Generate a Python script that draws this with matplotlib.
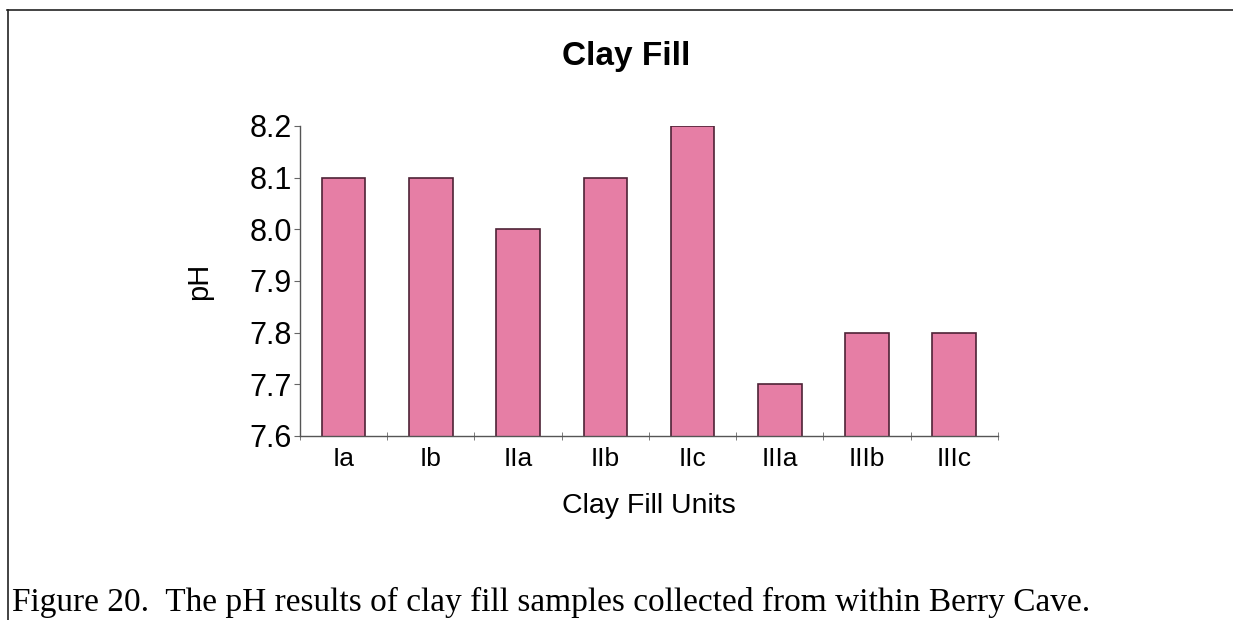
import numpy as np
import matplotlib
matplotlib.use("Agg")
import matplotlib.pyplot as plt
from matplotlib.lines import Line2D

units = ["Ia", "Ib", "IIa", "IIb", "IIc", "IIIa", "IIIb", "IIIc"]
ph = [8.1, 8.1, 8.0, 8.1, 8.2, 7.7, 7.8, 7.8]
yticks = [7.6, 7.7, 7.8, 7.9, 8.0, 8.1, 8.2]

plt.rcParams['font.family'] = ['Liberation Sans', 'DejaVu Sans']

fig = plt.figure(figsize=(12.33, 6.2), dpi=100)
ax = fig.add_axes([0.2433, 0.2968, 0.566, 0.5])

x = np.arange(len(units))
ax.bar(x, ph, width=0.5, color='#e67ea5', edgecolor='#4e2236', linewidth=1.2)

ax.set_xlim(-0.5, len(units) - 0.5)
ax.set_ylim(7.6, 8.2)
ax.set_yticks(yticks)
ax.set_yticklabels([f"{v:.1f}" for v in yticks], fontsize=22)
ax.set_xticks(x)
ax.set_xticklabels(units, fontsize=19)
ax.set_xticks(np.arange(len(units) + 1) - 0.5, minor=True)
ax.tick_params(axis='x', which='major', length=0, pad=8)
ax.tick_params(axis='x', which='minor', direction='inout', length=6, color='#666666')
ax.tick_params(axis='y', direction='out', length=4, color='#666666', pad=2)

for s in ['top', 'right']:
    ax.spines[s].set_visible(False)
for s in ['left', 'bottom']:
    ax.spines[s].set_color('#555555')
    ax.spines[s].set_linewidth(1.0)

ax.set_ylabel("pH", fontsize=21, labelpad=26)
ax.set_xlabel("Clay Fill Units", fontsize=20.5, labelpad=16)
fig.text(626 / 1233, 1 - 57 / 620, "Clay Fill", fontsize=24, fontweight='bold',
         ha='center', va='center')

# page frame and caption
fig.add_artist(Line2D([7 / 1233, 1], [1 - 10 / 620] * 2, color='#222222', lw=1.2))
fig.add_artist(Line2D([8 / 1233] * 2, [0, 1 - 10 / 620], color='#222222', lw=1.2))
fig.text(12 / 1233, 1 - 611 / 620,
         "Figure 20.  The pH results of clay fill samples collected from within Berry Cave.",
         fontsize=24, family=['Liberation Serif', 'DejaVu Serif'], va='baseline')

fig.savefig("out.png", dpi=100)
